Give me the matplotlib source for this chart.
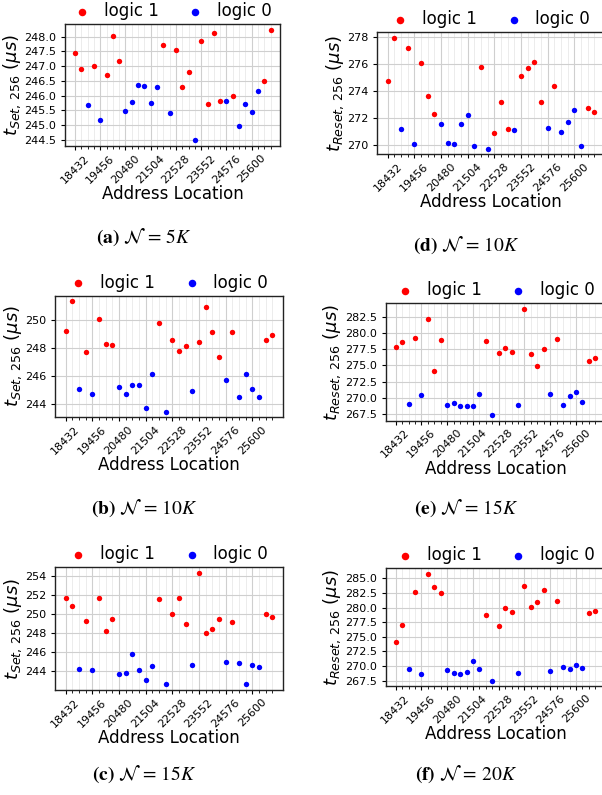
import matplotlib
matplotlib.use("Agg")
import matplotlib.pyplot as plt
from matplotlib.ticker import FixedLocator, FormatStrFormatter

# ---------------- data ----------------
addresses = [18432, 18688, 18944, 19200, 19456, 19712, 19968, 20224,
             20480, 20736, 20992, 21248, 21504, 21760, 22016, 22272,
             22528, 22784, 23040, 23296, 23552, 23808, 24064, 24320,
             24576, 24832, 25088, 25344, 25600, 25856, 26112, 26368]
logic = [1, 1, 0, 1, 0, 1, 1, 1, 0, 0, 0, 0, 0, 0, 1, 0,
         1, 1, 1, 0, 1, 1, 1, 1, 0, 1, 0, 0, 0, 0, 1, 1]

xticks = [18432, 19456, 20480, 21504, 22528, 23552, 24576, 25600]

set_5k = [247.46, 246.89, 245.67, 247.02, 245.18, 246.70, 248.01, 247.18,
          245.49, 245.77, 246.35, 246.32, 245.74, 246.28, 247.71, 245.42,
          247.56, 246.30, 246.80, 244.48, 247.84, 245.73, 248.11, 245.81,
          245.83, 245.99, 244.96, 245.71, 245.46, 246.14, 246.51, 248.23]
set_10k = [249.19, 251.30, 245.09, 247.72, 244.74, 250.05, 248.27, 248.20,
           245.23, 244.74, 245.35, 245.33, 243.74, 246.11, 249.76, 243.45,
           248.55, 247.79, 248.15, 244.90, 248.41, 250.88, 249.12, 247.32,
           245.71, 249.12, 244.52, 246.13, 245.09, 244.50, 248.55, 248.93]
set_15k = [251.64, 250.84, 244.31, 249.31, 244.14, 251.67, 248.20, 249.49,
           243.76, 243.79, 245.77, 244.14, 243.13, 244.59, 251.57, 242.65,
           250.01, 251.71, 248.93, 244.63, 254.28, 248.06, 248.41, 249.45,
           244.94, 249.17, 244.90, 242.72, 244.69, 244.49, 250.01, 249.66]
reset_10k = [274.75, 277.93, 271.18, 277.19, 270.07, 276.03, 273.59, 272.31,
             271.50, 270.12, 270.07, 271.53, 272.17, 269.88, 275.74, 269.70,
             270.86, 273.15, 271.13, 271.11, 275.10, 275.71, 276.16, 273.18,
             271.26, 274.36, 270.94, 271.65, 272.58, 269.93, 272.73, 272.44]
reset_15k = [277.86, 278.62, 269.03, 279.23, 270.41, 282.14, 274.13, 278.93,
             268.93, 269.18, 268.72, 268.67, 268.67, 270.51, 278.78, 267.30,
             276.84, 277.65, 277.04, 268.88, 283.72, 276.73, 274.95, 277.50,
             270.66, 278.98, 268.93, 270.31, 270.87, 269.39, 275.66, 276.12]
reset_20k = [274.09, 277.10, 269.55, 282.67, 268.64, 285.80, 283.52, 282.50,
             269.38, 268.81, 268.64, 268.98, 270.80, 269.43, 278.81, 267.50,
             276.93, 279.94, 279.20, 268.81, 283.64, 280.06, 280.91, 282.95,
             269.15, 281.14, 269.83, 269.49, 270.17, 269.60, 279.09, 279.43]

yticks_a = [244.5, 245.0, 245.5, 246.0, 246.5, 247.0, 247.5, 248.0]
yticks_b = [244, 246, 248, 250]
yticks_c = [244, 246, 248, 250, 252, 254]
yticks_d = [270, 272, 274, 276, 278]
yticks_e = [267.5, 270.0, 272.5, 275.0, 277.5, 280.0, 282.5]
yticks_f = [267.5, 270.0, 272.5, 275.0, 277.5, 280.0, 282.5, 285.0]

ylabel_set = r"$t_{Set,\,256}\ (\mu s)$"
ylabel_reset = r"$t_{Reset,\,256}\ (\mu s)$"
captions = [r"$\mathbf{(a)}\ \mathcal{N}\,=\,5K$",
            r"$\mathbf{(b)}\ \mathcal{N}\,=\,10K$",
            r"$\mathbf{(c)}\ \mathcal{N}\,=\,15K$",
            r"$\mathbf{(d)}\ \mathcal{N}\,=\,10K$",
            r"$\mathbf{(e)}\ \mathcal{N}\,=\,15K$",
            r"$\mathbf{(f)}\ \mathcal{N}\,=\,20K$"]
legend_labels = ["logic 1", "logic 0"]

# ---------------- layout (pixels) ----------------
W, H = 602, 795
fig = plt.figure(figsize=(W / 100, H / 100), dpi=100)

panels = [
    # (values, yticks, fmt, ylabel, (left, right, top, bottom), caption_xy)
    (set_5k, yticks_a, "%.1f", ylabel_set, (65.2, 280.4, 24.3, 146.0), (144, 237)),
    (set_10k, yticks_b, "%d", ylabel_set, (55.3, 282.6, 295.7, 417.3), (144, 508)),
    (set_15k, yticks_c, "%d", ylabel_set, (55.3, 282.6, 567.3, 690.0), (144, 774)),
    (reset_10k, yticks_d, "%d", ylabel_reset, (377.4, 604.7, 32.3, 154.3), (466, 245)),
    (reset_15k, yticks_e, "%.1f", ylabel_reset, (385.7, 605.3, 303.3, 420.7), (466, 508)),
    (reset_20k, yticks_f, "%.1f", ylabel_reset, (385.7, 605.3, 568.3, 686.0), (466, 774)),
]

for (vals, yt, fmt, ylab, (l, r, t, b), (cx, cy)), cap in zip(panels, captions):
    ax = fig.add_axes([l / W, 1 - b / H, (r - l) / W, (b - t) / H])
    x1 = [a for a, g in zip(addresses, logic) if g == 1]
    y1 = [v for v, g in zip(vals, logic) if g == 1]
    x0 = [a for a, g in zip(addresses, logic) if g == 0]
    y0 = [v for v, g in zip(vals, logic) if g == 0]
    ax.scatter(x1, y1, s=15, color="#ff0000", label=legend_labels[0], zorder=3, linewidths=0)
    ax.scatter(x0, y0, s=15, color="#0000ff", label=legend_labels[1], zorder=3, linewidths=0)

    ax.set_xticks(xticks)
    ax.set_xticklabels([str(v) for v in xticks], rotation=45, fontsize=8)
    ax.xaxis.set_minor_locator(FixedLocator(addresses))
    ax.set_yticks(yt)
    ax.yaxis.set_major_formatter(FormatStrFormatter(fmt))
    ax.tick_params(axis="y", labelsize=8, length=3)
    ax.tick_params(axis="x", which="major", length=3, pad=2)
    ax.tick_params(axis="x", which="minor", length=2)
    ax.set_axisbelow(True)
    ax.grid(which="major", color="#cfcfcf", linewidth=0.8)
    ax.grid(which="minor", axis="x", color="#ececec", linewidth=0.7)
    for sp in ax.spines.values():
        sp.set_linewidth(1.0)
        sp.set_color("#222222")

    ax.set_xlabel("Address Location", fontsize=12, labelpad=0)
    ax.set_ylabel(ylab, fontsize=13, labelpad=1)

    ax.legend(loc="lower center", bbox_to_anchor=(0.5, 1.0), ncol=2,
              frameon=False, fontsize=12, handlelength=1.0, handletextpad=0.8,
              columnspacing=1.7, borderpad=0.1, borderaxespad=0.15,
              scatterpoints=1, markerscale=1.4)

    fig.text(cx / W, 1 - cy / H, cap, fontsize=14, ha="center", va="center",
             math_fontfamily="stix")

fig.savefig("out.png", dpi=100)
